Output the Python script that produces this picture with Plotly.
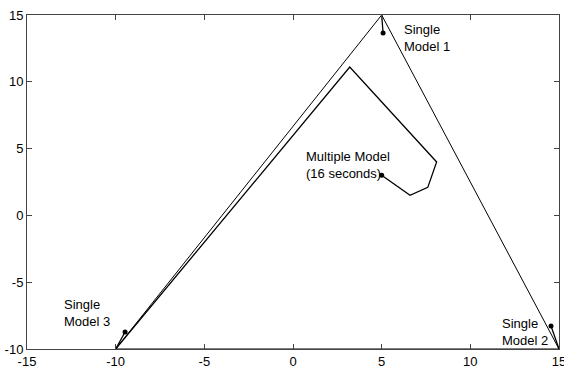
import plotly.graph_objects as go

# Triangle (bounds) vertices
tri_x = [5, 15, -10, 5]
tri_y = [15, -10, -10, 15]

# Multiple model trajectory (16 seconds)
mm_x = [-10.0, 3.2, 8.1, 7.6, 6.6, 5.0]
mm_y = [-10.0, 11.1, 4.0, 2.1, 1.5, 3.0]

# Single model trajectories
sm1_x = [5.0, 5.08]
sm1_y = [15.0, 13.65]
sm2_x = [15.0, 14.55]
sm2_y = [-10.0, -8.28]
sm3_x = [-10.0, -9.47]
sm3_y = [-10.0, -8.73]

# Labels
label_text = ["Single<br>Model 1", "Multiple Model<br>(16 seconds)", "Single<br>Model 3", "Single<br>Model 2"]
label_x = [6.15, 0.6, -13.05, 11.65]
label_y = [13.3, 3.75, -7.3, -8.7]

x_ticks = [-15, -10, -5, 0, 5, 10, 15]
x_tick_text = ["-15", "-10", "-5", "0", "5", "10", "15"]
y_ticks = [-10, -5, 0, 5, 10, 15]
y_tick_text = ["-10", "-5", "0", "5", "10", "15"]

fig = go.Figure()
fig.add_trace(go.Scatter(x=tri_x, y=tri_y, mode="lines",
                         line=dict(color="black", width=1), showlegend=False))
for sx, sy in [(sm1_x, sm1_y), (sm2_x, sm2_y), (sm3_x, sm3_y), (mm_x, mm_y)]:
    fig.add_trace(go.Scatter(x=sx, y=sy, mode="lines",
                             line=dict(color="black", width=1.3), showlegend=False))
    fig.add_trace(go.Scatter(x=[sx[-1]], y=[sy[-1]], mode="markers",
                             marker=dict(color="black", size=5), showlegend=False))

for t, x, y in zip(label_text, label_x, label_y):
    fig.add_annotation(x=x, y=y, text=t, showarrow=False, xanchor="left", yanchor="middle",
                       align="left", font=dict(family="Liberation Sans, Arial", size=13, color="black"))

axis_common = dict(showgrid=False, zeroline=False, showline=True, linecolor="#444", linewidth=1,
                   mirror="ticks", ticks="inside", ticklen=5, tickcolor="#444",
                   ticklabeloverflow="allow", automargin=False,
                   tickfont=dict(family="Liberation Sans, Arial", size=13, color="black"))
fig.update_xaxes(range=[-15, 15], tickvals=x_ticks, ticktext=x_tick_text, **axis_common)
fig.update_yaxes(range=[-10, 15], tickvals=y_ticks, ticktext=y_tick_text, **axis_common)

fig.update_layout(width=564, height=373, margin=dict(l=27, r=5, t=15, b=24),
                  plot_bgcolor="white", paper_bgcolor="white")

fig.write_html("out.html")
